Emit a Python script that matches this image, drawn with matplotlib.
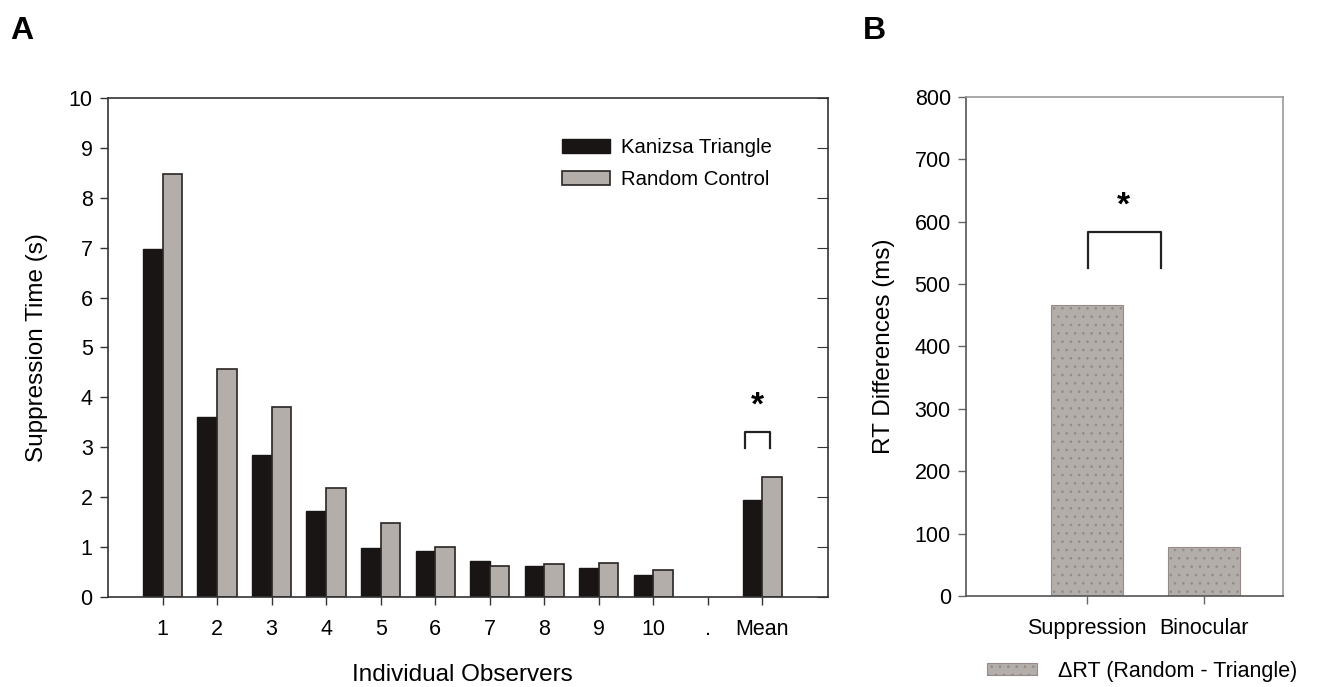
import matplotlib
matplotlib.use("Agg")
import matplotlib.pyplot as plt
import numpy as np
from matplotlib.patches import Patch

plt.rcParams['font.family'] = ['Liberation Sans', 'DejaVu Sans']
plt.rcParams['hatch.linewidth'] = 0.7

# ---- data ----
observers = ['1', '2', '3', '4', '5', '6', '7', '8', '9', '10', '.', 'Mean']
kanizsa = [6.97, 3.60, 2.85, 1.72, 0.98, 0.92, 0.72, 0.63, 0.58, 0.45, np.nan, 1.95]
random_ctrl = [8.48, 4.56, 3.80, 2.18, 1.48, 1.01, 0.62, 0.66, 0.69, 0.55, np.nan, 2.40]

conditions = ['Suppression', 'Binocular']
rt_diff = [467, 78]

black = '#1a1515'
gray = '#b4aeab'
TICK = 15.5
LAB = 17.5

fig = plt.figure(figsize=(13.23, 6.87), dpi=100)

# ---- Panel A ----
axA = fig.add_axes([0.0816, 0.131, 0.5442, 0.7264])
x = np.arange(1, len(observers) + 1)
w = 0.36
axA.bar(x - w / 2, kanizsa, width=w, color=black, edgecolor=black, linewidth=1.0,
        label='Kanizsa Triangle')
axA.bar(x + w / 2, random_ctrl, width=w, color=gray, edgecolor='#2a2424', linewidth=1.2,
        label='Random Control')
axA.set_xlim(0, 13.2)
axA.set_ylim(0, 10)
axA.set_yticks(range(0, 11))
axA.set_xticks(x)
axA.set_xticklabels(observers)
axA.tick_params(axis='both', labelsize=TICK, length=6, width=1.0, color='#333333')
axA.tick_params(axis='x', pad=10)
axA.tick_params(axis='y', pad=5)
for s in axA.spines.values():
    s.set_color('#333333')
    s.set_linewidth(1.2)
axA.set_ylabel('Suppression Time (s)', fontsize=LAB)
axA.yaxis.set_label_coords(-0.083, 0.5)
axA.set_xlabel('Individual Observers', fontsize=LAB)
axA.xaxis.set_label_coords(0.492, -0.135)

# bracket + star on Mean
mi = x[-1]
axA.plot([mi - 0.32, mi - 0.32, mi + 0.13, mi + 0.13], [2.99, 3.31, 3.31, 2.99],
         color='#222222', lw=1.6)
axA.text(mi - 0.1, 3.82, '*', fontsize=24, fontweight='bold', ha='center', va='center')

axA.legend(loc='upper left', bbox_to_anchor=(0.631, 0.92), frameon=False, fontsize=14.7,
           handlelength=2.35, handleheight=0.7, handletextpad=0.55, labelspacing=0.65,
           borderaxespad=0, borderpad=0)

# right-side inward ticks for panel A
axR = axA.twinx()
axR.set_ylim(0, 10)
axR.set_yticks(range(0, 11))
axR.tick_params(axis='y', direction='in', length=8, labelright=False, color='#333333')
for s in ['left', 'top', 'bottom', 'right']:
    axR.spines[s].set_visible(False)

# ---- Panel B ----
axB = fig.add_axes([0.7302, 0.1325, 0.2396, 0.7263])
xb = np.arange(len(conditions))
axB.bar(xb, rt_diff, width=0.61, color=gray, edgecolor='#958c8a', linewidth=0.8,
        hatch='..')
axB.set_xlim(-1.034, 1.675)
axB.set_ylim(0, 800)
axB.set_yticks(range(0, 801, 100))
axB.set_xticks(xb)
axB.set_xticklabels(conditions)
axB.tick_params(axis='both', labelsize=TICK, length=6, width=1.0, color='#666666')
axB.tick_params(axis='x', pad=10)
axB.tick_params(axis='y', pad=5)
for s in axB.spines.values():
    s.set_color('#999999')
    s.set_linewidth(1.2)
axB.spines['left'].set_color('#555555')
axB.spines['bottom'].set_color('#555555')
axB.set_ylabel('RT Differences (ms)', fontsize=LAB)
axB.yaxis.set_label_coords(-0.224, 0.5)

axB.plot([0.01, 0.01, 0.63, 0.63], [526, 583, 583, 526], color='#222222', lw=1.6)
axB.text(0.31, 625, '*', fontsize=24, fontweight='bold', ha='center', va='center')

fig.legend(handles=[Patch(facecolor=gray, edgecolor='#958c8a', hatch='..', linewidth=0.8,
                          label='ΔRT (Random - Triangle)')],
           loc='center left', bbox_to_anchor=(0.738, 0.023), frameon=False, fontsize=15.5,
           handlelength=2.3, handleheight=0.45, handletextpad=1.0, borderpad=0)

# panel letters
fig.text(0.008, 0.955, 'A', fontsize=23, fontweight='bold', va='center', ha='left')
fig.text(0.652, 0.955, 'B', fontsize=23, fontweight='bold', va='center', ha='left')

fig.savefig('out.png', dpi=100)
